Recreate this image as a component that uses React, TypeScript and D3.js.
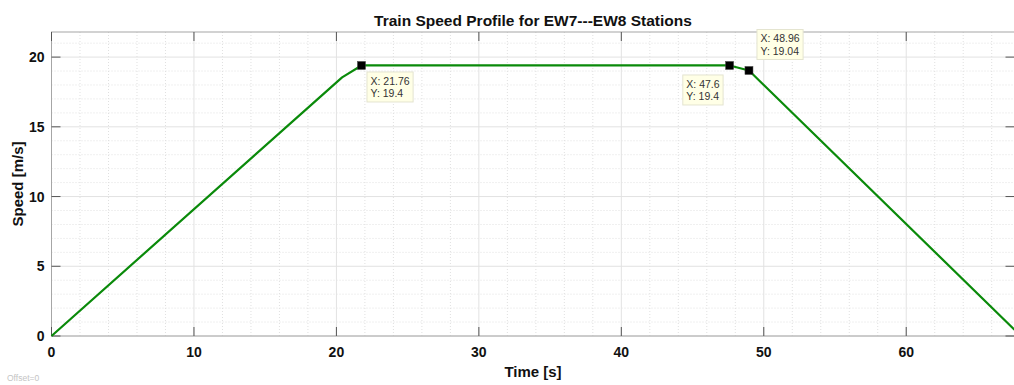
import React, { useEffect, useRef } from "react";
import * as d3 from "d3";

// Data
const timeS = [0, 20.4, 21.76, 47.6, 48.96, 67.6];
const speedMS = [0, 18.55, 19.4, 19.4, 19.04, 0.45];
const xTicks = [0, 10, 20, 30, 40, 50, 60];
const yTicks = [0, 5, 10, 15, 20];
const tipX = [21.76, 47.6, 48.96];
const tipY = [19.4, 19.4, 19.04];
const tipPlace = ["br", "bl", "tr"];

const W = 1014;
const H = 385;

export default function App() {
  const ref = useRef<SVGSVGElement>(null);

  useEffect(() => {
    const svg = d3.select(ref.current);
    svg.selectAll("*").remove();
    const x = d3.scaleLinear().domain([0, 67.6]).range([51.5, 1014.5]);
    const y = d3.scaleLinear().domain([0, 21.8]).range([336, 32]);
    const [x0, x1] = x.range();
    const [y0, y1] = y.range();
    const font = "'Liberation Sans', Arial, Helvetica, sans-serif";

    const g = svg.append("g");
    // minor grid
    const xMinor = d3.range(0, 68, 2).filter((v) => v % 10 !== 0);
    const yMinor = d3.range(0, 22, 1).filter((v) => v % 5 !== 0);
    g.selectAll(".xm").data(xMinor).enter().append("line")
      .attr("x1", (d) => x(d)).attr("x2", (d) => x(d))
      .attr("y1", y0).attr("y2", y1)
      .attr("stroke", "#e0e0e0").attr("stroke-width", 1).attr("stroke-dasharray", "1,2");
    g.selectAll(".ym").data(yMinor).enter().append("line")
      .attr("y1", (d) => y(d)).attr("y2", (d) => y(d))
      .attr("x1", x0).attr("x2", x1)
      .attr("stroke", "#e0e0e0").attr("stroke-width", 1).attr("stroke-dasharray", "1,2");
    // major grid
    g.selectAll(".xg").data(xTicks).enter().append("line")
      .attr("x1", (d) => x(d)).attr("x2", (d) => x(d))
      .attr("y1", y0).attr("y2", y1)
      .attr("stroke", "#e2e2e2").attr("stroke-width", 1);
    g.selectAll(".yg").data(yTicks).enter().append("line")
      .attr("y1", (d) => y(d)).attr("y2", (d) => y(d))
      .attr("x1", x0).attr("x2", x1)
      .attr("stroke", "#e2e2e2").attr("stroke-width", 1);

    // box
    g.append("rect").attr("x", x0).attr("y", y1).attr("width", x1 - x0).attr("height", y0 - y1)
      .attr("fill", "none").attr("stroke", "#a6a6a6").attr("stroke-width", 1);

    // ticks
    const tl = 9;
    xTicks.forEach((v) => {
      g.append("line").attr("x1", x(v)).attr("x2", x(v)).attr("y1", y0).attr("y2", y0 - tl)
        .attr("stroke", "#555").attr("stroke-width", 1);
      g.append("line").attr("x1", x(v)).attr("x2", x(v)).attr("y1", y1).attr("y2", y1 + tl)
        .attr("stroke", "#555").attr("stroke-width", 1);
      g.append("text").attr("x", x(v)).attr("y", 357).attr("text-anchor", "middle")
        .attr("font-family", font).attr("font-weight", "bold").attr("font-size", 14)
        .attr("fill", "#111").text(String(v));
    });
    yTicks.forEach((v) => {
      g.append("line").attr("x1", x0).attr("x2", x0 + tl).attr("y1", y(v)).attr("y2", y(v))
        .attr("stroke", "#555").attr("stroke-width", 1);
      g.append("line").attr("x1", x1).attr("x2", x1 - tl).attr("y1", y(v)).attr("y2", y(v))
        .attr("stroke", "#555").attr("stroke-width", 1);
      g.append("text").attr("x", 44.5).attr("y", y(v) + 5).attr("text-anchor", "end")
        .attr("font-family", font).attr("font-weight", "bold").attr("font-size", 14)
        .attr("fill", "#111").text(String(v));
    });

    // line
    const pts = timeS.map((t, i) => [t, speedMS[i]] as [number, number]);
    const line = d3.line<[number, number]>().x((d) => x(d[0])).y((d) => y(d[1]));
    g.append("path").attr("d", line(pts)).attr("fill", "none")
      .attr("stroke", "#0a8a0a").attr("stroke-width", 2.2).attr("stroke-linejoin", "round");

    // datatips
    tipX.forEach((tx, i) => {
      const px = x(tx);
      const py = y(tipY[i]);
      g.append("rect").attr("x", px - 4).attr("y", py - 4).attr("width", 8).attr("height", 8)
        .attr("fill", "#000").attr("stroke", "#444").attr("stroke-width", 0.5);
      const tg = g.append("g");
      const t1 = tg.append("text").attr("font-family", font).attr("font-size", 10.5)
        .attr("fill", "#333").text(`X: ${tx}`);
      const t2 = tg.append("text").attr("font-family", font).attr("font-size", 10.5)
        .attr("fill", "#333").text(`Y: ${tipY[i]}`);
      const w1 = (t1.node() as SVGTextElement).getComputedTextLength();
      const w2 = (t2.node() as SVGTextElement).getComputedTextLength();
      const bw = Math.max(w1, w2) + 7;
      const bh = 30;
      let bx = px + 5.5;
      let by = py + 6.5;
      if (tipPlace[i] === "bl") { bx = px - 6.5 - bw; by = py + 9.5; }
      if (tipPlace[i] === "tr") { bx = px + 8; by = py - 11 - bh; }
      tg.insert("rect", "text").attr("x", bx).attr("y", by).attr("width", bw).attr("height", bh)
        .attr("fill", "#ffffe6").attr("stroke", "#e4e4d0").attr("stroke-width", 1);
      t1.attr("x", bx + 3.5).attr("y", by + 13);
      t2.attr("x", bx + 3.5).attr("y", by + 25.5);
    });

    // title & labels
    svg.append("text").attr("x", (x0 + x1) / 2).attr("y", 25.5).attr("text-anchor", "middle")
      .attr("font-family", font).attr("font-weight", "bold").attr("font-size", 15.5)
      .attr("fill", "#111").text("Train Speed Profile for EW7---EW8 Stations");
    svg.append("text").attr("x", (x0 + x1) / 2).attr("y", 377).attr("text-anchor", "middle")
      .attr("font-family", font).attr("font-weight", "bold").attr("font-size", 15)
      .attr("fill", "#111").text("Time [s]");
    svg.append("text").attr("transform", `translate(23,${(y0 + y1) / 2}) rotate(-90)`)
      .attr("text-anchor", "middle")
      .attr("font-family", font).attr("font-weight", "bold").attr("font-size", 15)
      .attr("fill", "#111").text("Speed [m/s]");
    svg.append("text").attr("x", 7).attr("y", 381)
      .attr("font-family", font).attr("font-size", 8.5)
      .attr("fill", "#c4c4c4").text("Offset=0");
  }, []);

  return (
    <svg ref={ref} width={W} height={H}
      style={{ position: "absolute", left: 0, top: 0, background: "#fff" }} />
  );
}
